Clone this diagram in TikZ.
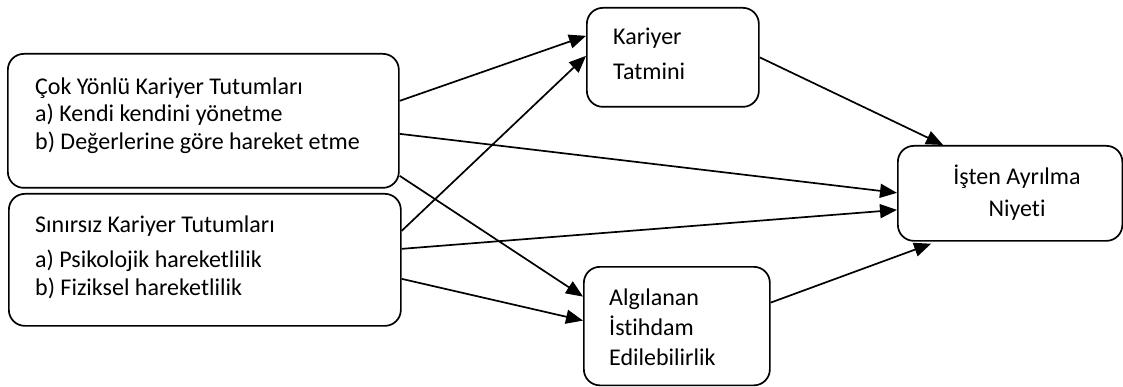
\documentclass[tikz,border=0pt]{standalone}
\usepackage{fontspec}
\setmainfont{Carlito}[Ligatures={NoCommon}]
\usetikzlibrary{arrows.meta}
\begin{document}
\begin{tikzpicture}[x=1pt,y=-1pt,
  box/.style={draw=black, line width=1.7pt, rounded corners=16pt, anchor=north west, inner sep=0pt},
  txt/.style={anchor=base west, inner sep=0pt, font=\fontsize{24}{28}\selectfont},
  ctxt/.style={anchor=base, inner sep=0pt, font=\fontsize{24}{28}\selectfont},
  conn/.style={line width=1.7pt, -{Triangle[length=17pt,width=14pt]}}]
\useasboundingbox (0,0) rectangle (1123,387);
% boxes
\node[box, minimum width=391pt, minimum height=134pt] (A) at (7,53) {};
\node[box, minimum width=392pt, minimum height=132pt] (B) at (8,193) {};
\node[box, minimum width=172pt, minimum height=99pt] (K) at (586,7) {};
\node[box, minimum width=186pt, minimum height=118.5pt] (G) at (583,266) {};
\node[box, minimum width=224.5pt, minimum height=95pt] (I) at (897,145) {};
% texts
\node[txt] (a1) at (35,95) {Çok Yönlü Kariyer Tutumları};
\node[txt] (a2) at (35,122) {a) Kendi kendini yönetme};
\node[txt] (a3) at (35,150) {b) Değerlerine göre hareket etme};
\node[txt] (b1) at (35,233) {Sınırsız Kariyer Tutumları};
\node[txt] (b2) at (35,267) {a) Psikolojik hareketlilik};
\node[txt] (b3) at (35,295) {b) Fiziksel hareketlilik};
\node[txt] (k1) at (613,45) {Kariyer};
\node[txt] (k2) at (613,80) {Tatmini};
\node[txt] (g1) at (609,305) {Algılanan};
\node[txt] (g2) at (609,335) {İstihdam};
\node[txt] (g3) at (609,365) {Edilebilirlik};
\node[ctxt] (i1) at (1017,185) {İşten Ayrılma};
\node[ctxt] (i2) at (1017,217) {Niyeti};
% connectors
\draw[conn] ([yshift=20pt]A.east) -- ([yshift=21.5pt]K.west);
\draw[conn] ([yshift=-13pt]A.east) -- ([yshift=0.5pt]I.west);
\draw[conn] ([yshift=-55pt]A.east) -- ([yshift=29.5pt]G.west);
\draw[conn] ([yshift=29pt]B.east) -- ([yshift=1.5pt]K.west);
\draw[conn] ([yshift=11pt]B.east) -- ([yshift=-16.5pt]I.west);
\draw[conn] ([yshift=-19pt]B.east) -- ([yshift=5.5pt]G.west);
\draw[conn] (K.east) -- ([xshift=-67pt]I.north);
\draw[conn] ([yshift=23.5pt]G.east) -- ([xshift=-79pt,yshift=-2pt]I.south);
\end{tikzpicture}
\end{document}
